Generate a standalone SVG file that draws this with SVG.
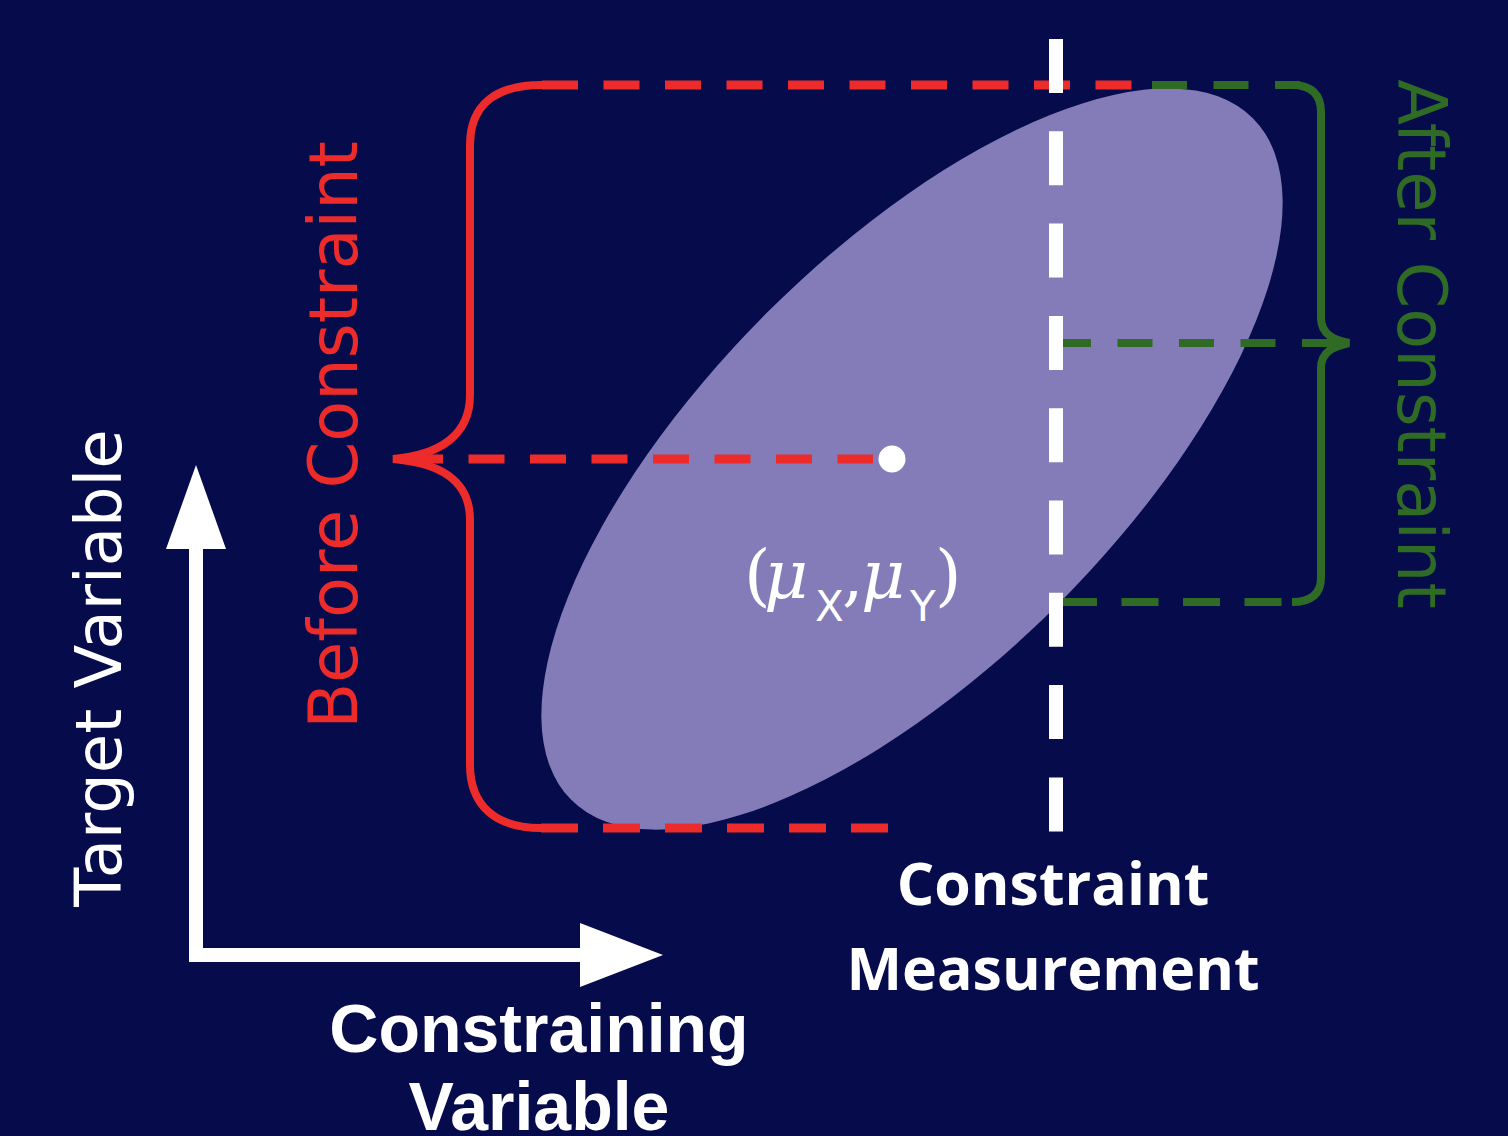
<svg xmlns="http://www.w3.org/2000/svg" width="1508" height="1136" viewBox="0 0 1508 1136">
<style>
.red{fill:none;stroke:#ee2b2b;stroke-width:8}
.redd{fill:none;stroke:#ee2b2b;stroke-width:9;stroke-dasharray:36 25.5}
.grn{fill:none;stroke:#2f6b25;stroke-width:8}
.grnd{fill:none;stroke:#2f6b25;stroke-width:8;stroke-dasharray:35 26.5}
.lbl{font-family:"DejaVu Sans",sans-serif;font-size:67px;text-anchor:middle}
.wb{font-family:"Open Sans","Noto Sans",sans-serif;font-weight:700;font-size:59px;fill:#fff;text-anchor:middle}
.wa{font-family:"Liberation Sans",Arial,sans-serif;font-weight:700;font-size:68px;fill:#fff;text-anchor:middle}
</style>
<rect width="1508" height="1136" fill="#060c4b"/>
<g id="ellipse">
<ellipse cx="912" cy="459" rx="482" ry="206" transform="rotate(-45 912 459)" fill="#837cb8"/>
</g>
<g id="connectors">
<path class="redd" d="M542 85H1135"/>
<path class="grnd" d="M1152 85H1300"/>
<path class="redd" d="M407 459H873"/>
<path class="redd" style="stroke-dasharray:37 25" d="M541 828H888"/>
<path class="red" d="M542 85C495 85 470 105 470 145V395C470 435 440 455 393 459C440 463 470 480 470 520V765C470 805 495 828 541 828"/>
<path class="grnd" d="M1056 343H1340"/>
<path class="grnd" style="stroke-dasharray:37 24.5" d="M1060 602H1296"/>
<path class="grn" d="M1292 85C1312 85 1321 95 1321 112V318C1321 335 1335 340 1349 343C1335 346 1321 351 1321 368V578C1321 593 1312 602 1292 602"/>
<path d="M1056 39V833" fill="none" stroke="#fff" stroke-width="14" stroke-dasharray="54 38.3"/>
<path d="M196 955V545M189 955H585" fill="none" stroke="#fff" stroke-width="14"/>
<path d="M196 465L226 549H166Z" fill="#fff"/>
<path d="M663 955L580 923V987Z" fill="#fff"/>
</g>
<g id="mean">
<circle cx="892" cy="459" r="13.5" fill="#fff"/>
<text fill="#fff" font-family="DejaVu Serif,serif" font-size="68">
<tspan x="744" y="598">(</tspan><tspan x="764" y="598" font-style="italic">μ</tspan><tspan x="815" y="621" font-family="DejaVu Sans,sans-serif" font-size="42">X</tspan><tspan x="842" y="598">,</tspan><tspan x="861" y="598" font-style="italic">μ</tspan><tspan x="910" y="621" font-family="DejaVu Sans,sans-serif" font-size="42">Y</tspan><tspan x="935" y="598">)</tspan>
</text>
</g>
<g id="labels">
<text class="lbl" fill="#fff" font-size="64" style="font-size:64px" transform="translate(121 668) rotate(-90)">Target Variable</text>
<text class="lbl" fill="#ee2b2b" transform="translate(357 435) rotate(-90)">Before Constraint</text>
<text class="lbl" fill="#2f6b25" transform="translate(1398 344) rotate(90)">After Constraint</text>
<text class="wb" x="1053" y="905">Constraint</text>
<text class="wb" x="1053" y="990">Measurement</text>
<text class="wa" x="539" y="1052">Constraining</text>
<text class="wa" x="539" y="1130">Variable</text>
</g>
</svg>
